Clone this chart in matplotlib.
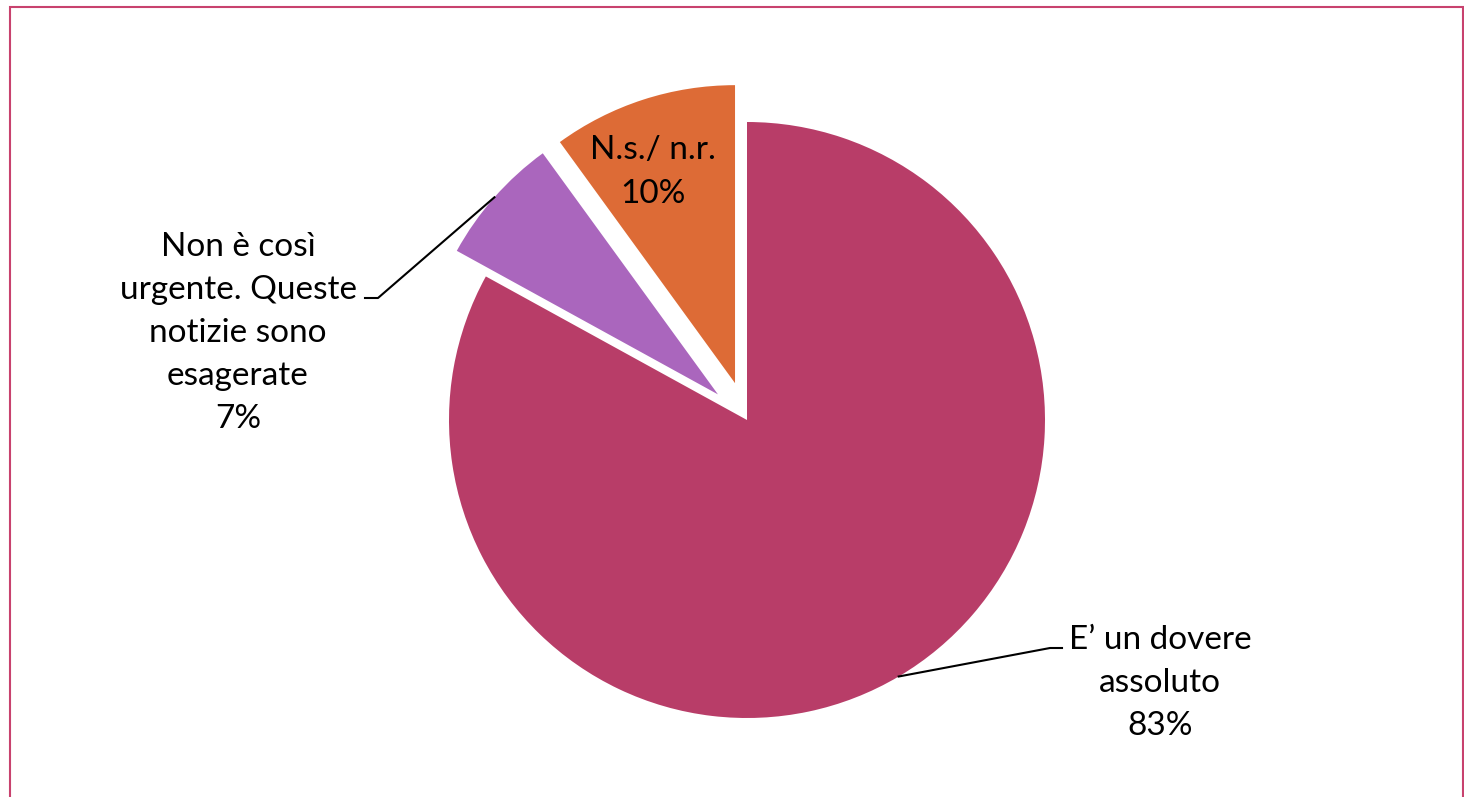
import math
import matplotlib
matplotlib.use('Agg')
import matplotlib.pyplot as plt
from matplotlib.patches import Rectangle

# data
labels = ["E’ un dovere\nassoluto", "Non è così\nurgente. Queste\nnotizie sono\nesagerate", "N.s./ n.r."]
values = [83, 7, 10]
colors = ['#B83D68', '#AA66BD', '#DD6B36']

W, H = 1464, 797
plt.rcParams['font.family'] = ['Lato', 'DejaVu Sans']

fig = plt.figure(figsize=(W / 100, H / 100), dpi=100)
ax = fig.add_axes([0, 0, 1, 1])

cx, cy, r = 747, H - 420, 298
wedges, _ = ax.pie(values, colors=colors, startangle=90, counterclock=False,
                   explode=[0, 0.13 * r, 0.13 * r], center=(cx, cy), radius=r,
                   wedgeprops=dict(linewidth=0))
ax.set_xlim(0, W)
ax.set_ylim(0, H)
ax.set_aspect('equal')
ax.axis('off')


def edge_point(w):
    a = math.radians((w.theta1 + w.theta2) / 2)
    x0, y0 = w.center
    return x0 + w.r * math.cos(a), y0 + w.r * math.sin(a)


fs = 24
ls = 1.55
# main slice label with leader
ax_, ay_ = edge_point(wedges[0])
ax.plot([ax_, 1050, 1062], [ay_, H - 648, H - 648], color='black', lw=1.5)
ax.text(1160, H - 683, f"{labels[0]}\n{values[0]}%", ha='center', va='center',
        fontsize=fs, linespacing=ls)

# purple slice label with leader
px, py = edge_point(wedges[1])
ax.plot([px, 378, 365], [py, H - 298, H - 298], color='black', lw=1.5)
ax.text(238, H - 333, f"{labels[1]}\n{values[1]}%", ha='center', va='center',
        fontsize=fs, linespacing=ls)

# orange slice label inside
ax.text(653, H - 172, f"{labels[2]}\n{values[2]}%", ha='center', va='center',
        fontsize=fs, linespacing=ls)

# frame
fig.patches.append(Rectangle((10, -10), 1453, H - 7 + 10, transform=None,
                             fill=False, edgecolor='#C8426E', lw=1.5))

fig.savefig('out.png', dpi=100)
